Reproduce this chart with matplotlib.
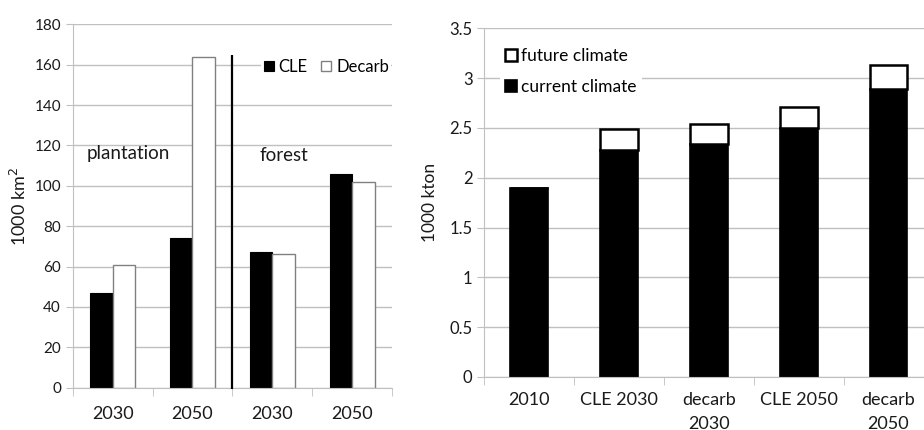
import matplotlib.pyplot as plt
import numpy as np

plt.rcParams['font.family'] = ['Lato', 'DejaVu Sans']

# Left panel: area (1000 km2) for plantation / forest
area_labels = ['2030', '2050', '2030', '2050']
area_cle = [47, 74, 67, 106]
area_decarb = [61, 164, 66, 102]

# Right panel: 1000 kton, current climate plus future-climate increment
prod_labels = ['2010', 'CLE 2030', 'decarb\n2030', 'CLE 2050', 'decarb\n2050']
prod_current = [1.90, 2.28, 2.34, 2.50, 2.89]
prod_future = [0.00, 0.21, 0.20, 0.21, 0.24]

grid_col = '#c0c0c0'
txt_col = '#1a1a1a'

fig = plt.figure(figsize=(9.24, 4.30), dpi=100)


def style_axes(ax, n):
    for s in ['top', 'right']:
        ax.spines[s].set_visible(False)
    ax.spines['left'].set_color(grid_col)
    ax.spines['bottom'].set_color(grid_col)
    ax.set_axisbelow(True)
    ax.yaxis.grid(True, color=grid_col, linewidth=1)
    ax.set_xlim(-0.5, n - 0.5)
    ax.set_xticks(np.arange(n))
    ax.set_xticks(np.arange(n + 1) - 0.5, minor=True)
    ax.tick_params(axis='x', which='major', length=0, pad=13, labelsize=13, colors=txt_col)
    ax.tick_params(axis='x', which='minor', length=6, color=grid_col)
    ax.tick_params(axis='y', length=5, color=grid_col, labelsize=11, colors=txt_col)


def white_legend(leg):
    fr = leg.get_frame()
    fr.set_edgecolor('none')
    fr.set_facecolor('white')
    fr.set_alpha(1)


# ---- left panel
ax1 = fig.add_axes([0.0787, 0.0984, 0.3456, 0.845])
x1 = np.arange(len(area_labels))
w1 = 0.283
ax1.bar(x1 - w1 / 2, area_cle, w1, color='black', edgecolor='black', linewidth=0.8, label='CLE')
ax1.bar(x1 + w1 / 2, area_decarb, w1, color='white', edgecolor='#808080', linewidth=1.0, label='Decarb')
style_axes(ax1, len(area_labels))
ax1.set_ylim(0, 180)
ax1.set_yticks(np.arange(0, 181, 20))
ax1.set_xticklabels(area_labels)
ax1.set_ylabel('1000 km$^2$', fontsize=13, color=txt_col, labelpad=4)
ax1.vlines(1.5, -0.6, 165, color='black', linewidth=1.6, clip_on=False, zorder=4)
ax1.text(-0.33, 116, 'plantation', fontsize=13.5, color=txt_col, va='center')
ax1.text(1.84, 115, 'forest', fontsize=13.5, color=txt_col, va='center')
leg1 = ax1.legend(loc='center left', bbox_to_anchor=(0.59, 0.8825), ncol=2, frameon=True,
                  fontsize=12, handlelength=0.6, handleheight=0.6, handletextpad=0.3,
                  columnspacing=0.8, borderpad=0.15, borderaxespad=0)
white_legend(leg1)

# ---- right panel
ax2 = fig.add_axes([0.5241, 0.1233, 0.4861, 0.811])
x2 = np.arange(len(prod_labels))
w2 = 0.42
ax2.bar(x2, prod_current, w2, color='black', edgecolor='black', linewidth=1.2, label='current climate')
ax2.bar(x2, prod_future, w2, bottom=prod_current, color='white', edgecolor='black',
        linewidth=1.8, label='future climate')
style_axes(ax2, len(prod_labels))
ax2.set_ylim(0, 3.5)
ax2.set_yticks(np.arange(0, 3.51, 0.5))
ax2.set_yticklabels(['0', '0.5', '1', '1.5', '2', '2.5', '3', '3.5'])
ax2.tick_params(axis='y', labelsize=12)
ax2.set_xticklabels(prod_labels, linespacing=1.6)
ax2.tick_params(axis='x', which='major', pad=11)
ax2.set_ylabel('1000 kton', fontsize=12.5, color=txt_col, labelpad=8)
h, l = ax2.get_legend_handles_labels()
leg2 = ax2.legend(h[::-1], l[::-1], loc='center left', bbox_to_anchor=(0.035, 0.876), frameon=True,
                  fontsize=12.5, handlelength=0.7, handleheight=0.7, handletextpad=0.2,
                  labelspacing=0.9, borderpad=0.3, borderaxespad=0)
white_legend(leg2)

fig.savefig('out.png', dpi=100)
